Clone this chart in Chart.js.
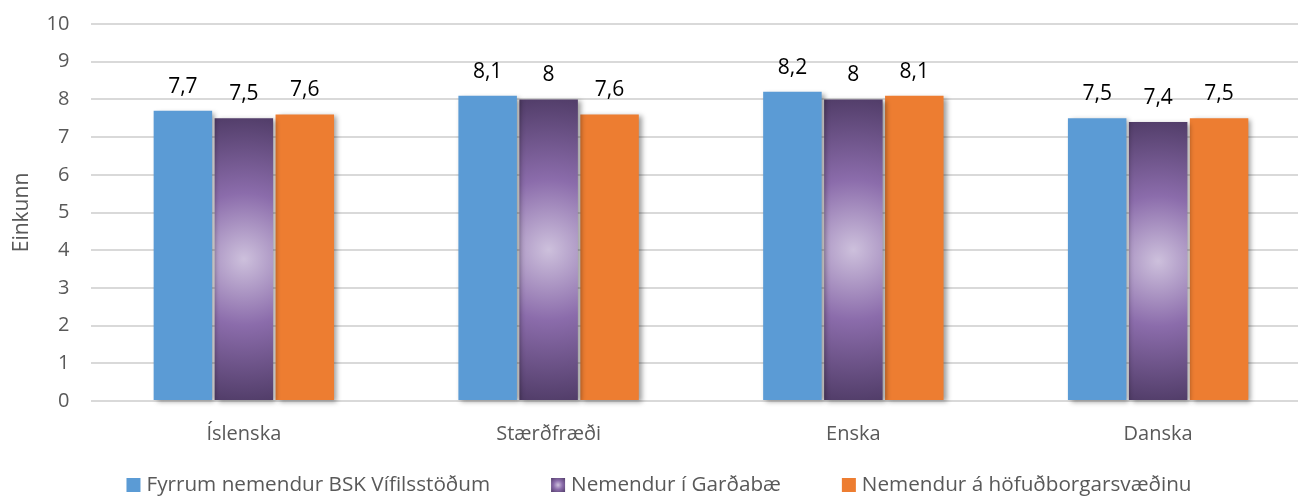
<!DOCTYPE html>
<html>
<head>
<meta charset="utf-8">
<script src="https://cdn.jsdelivr.net/npm/chart.js@4"></script>
<style>
html,body{margin:0;padding:0;background:#fff;overflow:hidden;}
#wrap{width:1298px;height:496px;overflow:hidden;position:relative;}
canvas{display:block;}
</style>
</head>
<body>
<div id="wrap"><canvas id="c" width="1312" height="496"></canvas></div>
<script>
const categories = ['Íslenska', 'Stærðfræði', 'Enska', 'Danska'];
const seriesNames = ['Fyrrum nemendur BSK Vífilsstöðum', 'Nemendur í Garðabæ', 'Nemendur á höfuðborgarsvæðinu'];
const fyrrumValues = [7.7, 8.1, 8.2, 7.5];
const gardabaeValues = [7.5, 8, 8, 7.4];
const hofudborgValues = [7.6, 7.6, 8.1, 7.5];
const yTicks = [0, 1, 2, 3, 4, 5, 6, 7, 8, 9, 10];

const FONT = "'Open Sans', 'DejaVu Sans', sans-serif";
const BLUE = '#5b9bd5', ORANGE = '#ed7d31', PURPLE = '#7a5c9c';

function purpleStops(g){
  g.addColorStop(0, '#cdc0dc');
  g.addColorStop(0.45, '#8b6cab');
  g.addColorStop(1, '#4f3b66');
}

const gradPlugin = {
  id: 'gradPlugin',
  beforeDatasetsDraw(chart){
    const meta = chart.getDatasetMeta(1);
    const ctx = chart.ctx;
    meta.data.forEach(el => {
      const top = Math.min(el.y, el.base), bot = Math.max(el.y, el.base);
      const cy = (top + bot) / 2;
      const r = (bot - top) / 2 + 6;
      const g = ctx.createRadialGradient(el.x, cy, 0, el.x, cy, r);
      purpleStops(g);
      el.options.backgroundColor = g;
    });
    ctx.save();
    ctx.shadowColor = 'rgba(0,0,0,0.38)';
    ctx.shadowBlur = 5;
    ctx.shadowOffsetX = 3;
    ctx.shadowOffsetY = 2;
  },
  afterDatasetsDraw(chart){
    chart.ctx.restore();
  }
};

const labelPlugin = {
  id: 'labelPlugin',
  afterDraw(chart){
    const ctx = chart.ctx;
    ctx.save();
    ctx.font = '21px ' + FONT;
    ctx.fillStyle = '#000';
    ctx.textAlign = 'center';
    ctx.textBaseline = 'alphabetic';
    chart.data.datasets.forEach((ds, di) => {
      chart.getDatasetMeta(di).data.forEach((el, i) => {
        const txt = String(ds.data[i]).replace('.', ',');
        ctx.fillText(txt, el.x, el.y - 18);
      });
    });
    ctx.restore();
  }
};

// legend drawn below the axis, built from the datasets
const legendPlugin = {
  id: 'bottomLegend',
  afterDraw(chart){
    const ctx = chart.ctx;
    const box = 14, gapText = 6, gapItem = 61, cy = 485, cx = 659;
    ctx.save();
    ctx.font = '20.7px ' + FONT;
    const items = chart.data.datasets.map((ds, i) => ({ text: ds.label, w: ctx.measureText(ds.label).width, i }));
    const total = items.reduce((s, it) => s + box + gapText + it.w, 0) + gapItem * (items.length - 1);
    let x = cx - total / 2;
    items.forEach(it => {
      const y0 = cy - box / 2;
      if (it.i === 1) {
        const g = ctx.createRadialGradient(x + box/2, cy, 0, x + box/2, cy, box * 0.72);
        purpleStops(g);
        ctx.fillStyle = g;
      } else {
        ctx.fillStyle = chart.data.datasets[it.i].backgroundColor;
      }
      ctx.fillRect(x, y0, box, box);
      ctx.fillStyle = '#595959';
      ctx.textAlign = 'left';
      ctx.textBaseline = 'middle';
      ctx.fillText(it.text, x + box + gapText, cy);
      x += box + gapText + it.w + gapItem;
    });
    ctx.restore();
  }
};

const common = { categoryPercentage: 0.6, barPercentage: 0.96, borderWidth: 0, clip: false };

new Chart(document.getElementById('c'), {
  type: 'bar',
  data: {
    labels: categories,
    datasets: [
      Object.assign({ label: seriesNames[0], data: fyrrumValues, backgroundColor: BLUE }, common),
      Object.assign({ label: seriesNames[1], data: gardabaeValues, backgroundColor: (c) => PURPLE }, common),
      Object.assign({ label: seriesNames[2], data: hofudborgValues, backgroundColor: ORANGE }, common)
    ]
  },
  options: {
    responsive: false,
    animation: false,
    devicePixelRatio: 1,
    layout: { padding: { top: 24, right: 1.5, left: 2, bottom: 29 } },
    scales: {
      x: {
        grid: { display: false, drawTicks: false },
        border: { display: false },
        ticks: { color: '#595959', font: { family: FONT, size: 20 }, padding: 21 }
      },
      y: {
        min: 0, max: 10,
        afterBuildTicks(axis){ axis.ticks = yTicks.map(v => ({ value: v })); },
        afterFit(scale){ scale.paddingTop = 0; scale.paddingBottom = 0; },
        grid: { color: '#d9d9d9', lineWidth: 2, drawTicks: false },
        border: { display: false },
        ticks: { color: '#595959', font: { family: FONT, size: 20 }, padding: 22 },
        title: { display: true, text: 'Einkunn', color: '#595959', font: { family: FONT, size: 21 }, padding: { top: 7.4, bottom: -10 } }
      }
    },
    plugins: {
      tooltip: { enabled: false },
      legend: { display: false }
    }
  },
  plugins: [gradPlugin, labelPlugin, legendPlugin]
});
</script>
</body>
</html>
